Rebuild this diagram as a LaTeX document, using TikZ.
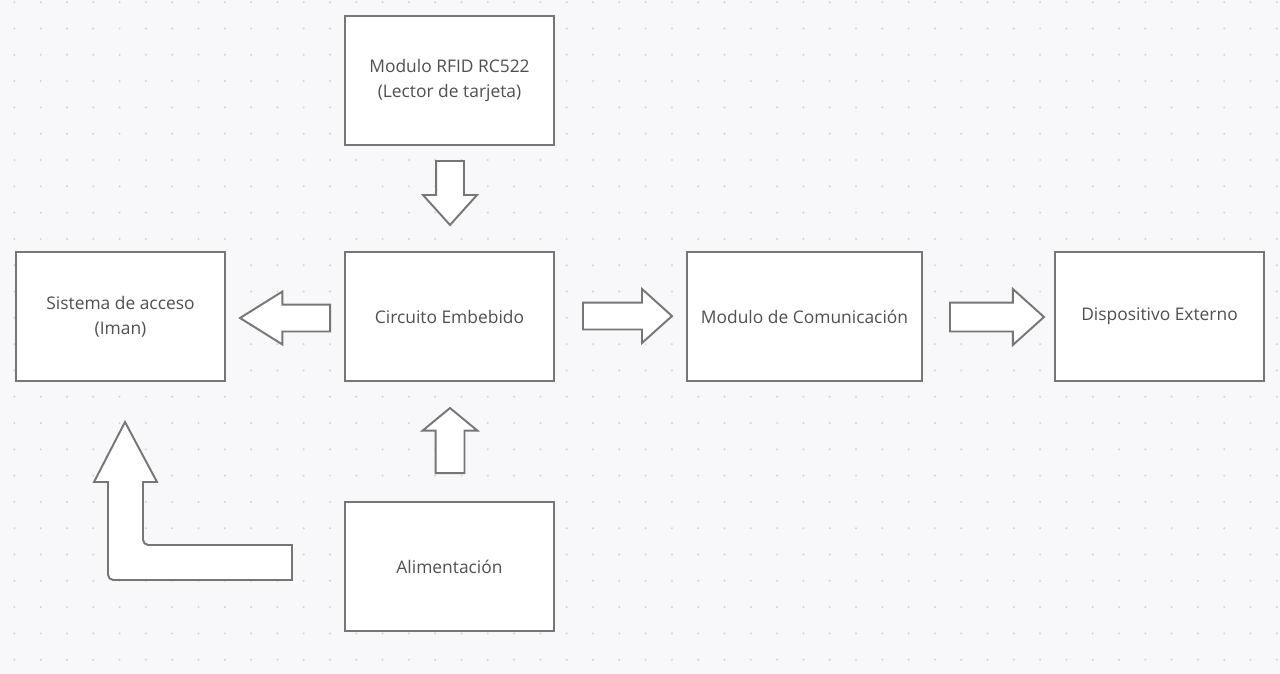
\documentclass[tikz,border=0pt]{standalone}
\usepackage{fontspec}
\setmainfont{Open Sans}
\usetikzlibrary{shapes.arrows, positioning}

\definecolor{paper}{HTML}{F8F8FA}
\definecolor{dotgrey}{HTML}{D3D3D7}
\definecolor{edgegrey}{HTML}{767676}
\definecolor{textgrey}{HTML}{505050}

\begin{document}
\begin{tikzpicture}
    \fontsize{9.9pt}{14pt}\selectfont
    % --- STYLES ---
    \tikzstyle{block} = [rectangle, draw=edgegrey, line width=1.1pt, fill=white, text=textgrey, align=center, minimum width=4.18cm, minimum height=2.58cm]
    \tikzstyle{wideblock} = [block, minimum width=4.7cm]
    \tikzstyle{fat} = [single arrow, draw=edgegrey, line width=1.1pt, fill=white, inner xsep=0pt, inner ysep=0.26cm, minimum width=0pt, single arrow head extend=0.26cm, single arrow head indent=0pt, anchor=tail]

    % background and dot grid
    \fill[paper] (0,0) rectangle (25.6,-13.48);
    \useasboundingbox (0,0) rectangle (25.6,-13.48);
    \foreach \i in {0,...,48}
      \foreach \j in {0,...,25}
        \fill[dotgrey] (0.288+0.526*\i, -0.044-0.526*\j) circle (0.022);

    % --- NODES ---
    \node (rfid)    [block] at (8.99, -1.61) {Modulo RFID RC522\\(Lector de tarjeta)};
    \node (acceso)  [block] at (2.41, -6.33) {Sistema de acceso\\(Iman)};
    \node (circuito)[block] at (8.99, -6.33) {Circuito Embebido};
    \node (comunic) [wideblock] at (16.09, -6.33) {Modulo de Comunicación};
    \node (externo) [block] at (23.19, -6.33) {Dispositivo Externo};
    \node (energia) [block] at (8.99, -11.33) {Alimentación};

    % --- ARROWS ---
    \node (lee)    [fat, rotate=-90, minimum height=1.28cm, single arrow tip angle=84] at (9.0, -3.2) {};
    \node (abre)   [fat, rotate=180, minimum height=1.8cm, inner ysep=0.25cm, single arrow tip angle=64] at (6.62, -6.36) {};
    \node (envia)  [fat, minimum height=1.78cm, inner ysep=0.25cm, single arrow head extend=0.27cm, single arrow tip angle=84] at (11.64, -6.32) {};
    \node (reenvia)[fat, minimum height=1.88cm, inner ysep=0.27cm, single arrow head extend=0.27cm, single arrow tip angle=84] at (18.98, -6.34) {};
    \node (carga)  [fat, rotate=90, minimum height=1.3cm, inner ysep=0.27cm, single arrow tip angle=101] at (9.0, -9.48) {};

    % L-shaped arrow from power to access
    \draw[draw=edgegrey, line width=1.1pt, fill=white]
      (3.14,-9.64) -- (2.5,-8.44) -- (1.88,-9.64) -- (2.16,-9.64)
      [rounded corners=3pt] -- (2.16,-11.6) [sharp corners] -- (5.84,-11.6)
      -- (5.84,-10.9) [rounded corners=3pt] -- (2.86,-10.9) [sharp corners] -- (2.86,-9.64) -- cycle;

\end{tikzpicture}
\end{document}
